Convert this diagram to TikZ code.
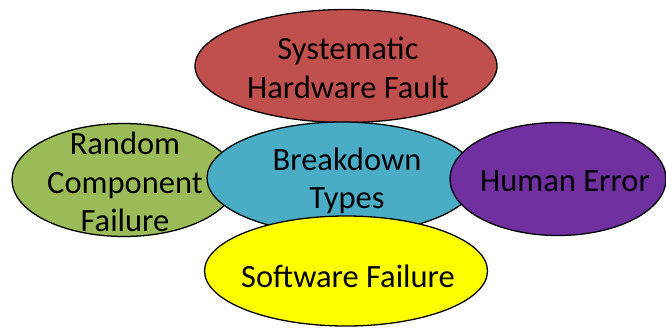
\documentclass[tikz,border=0pt]{standalone}
\usepackage{fontspec}
\setmainfont{Carlito}
\usetikzlibrary{shapes.geometric}
\definecolor{cred}{HTML}{C0504D}
\definecolor{cgreen}{HTML}{9BBB59}
\definecolor{cblue}{HTML}{4BACC6}
\definecolor{cpurple}{HTML}{7030A0}
\definecolor{cyellow}{HTML}{FFFF00}
\begin{document}
\begin{tikzpicture}[x=1pt,y=-1pt,
  blob/.style={ellipse,draw=black,line width=1.3pt,inner sep=0pt},
  lbl/.style={inner sep=0pt,font=\fontsize{32.5}{38.5}\selectfont,align=center,text=black}]
\useasboundingbox (0,0) rectangle (666,327);
\node[blob,fill=cred,minimum width=302,minimum height=113] (sys) at (346,66) {};
\node[lbl] (sysT) at (348,68) {Systematic\\Hardware Fault};
\node[blob,fill=cgreen,minimum width=224,minimum height=113] (rand) at (124,180) {};
\node[lbl] (randT) at (125,182) {Random\\Component\\Failure};
\node[blob,fill=cblue,minimum width=270,minimum height=112] (brk) at (342,178) {};
\node[lbl] (brkT) at (347,181) {Breakdown\\Types};
\node[blob,fill=cpurple,minimum width=216,minimum height=113] (hum) at (558,179) {};
\node[lbl] (humT) at (565,181) {Human Error};
\node[blob,fill=cyellow,minimum width=283,minimum height=110] (soft) at (346,271) {};
\node[lbl] (softT) at (348,276) {Software Failure};
\end{tikzpicture}
\end{document}
